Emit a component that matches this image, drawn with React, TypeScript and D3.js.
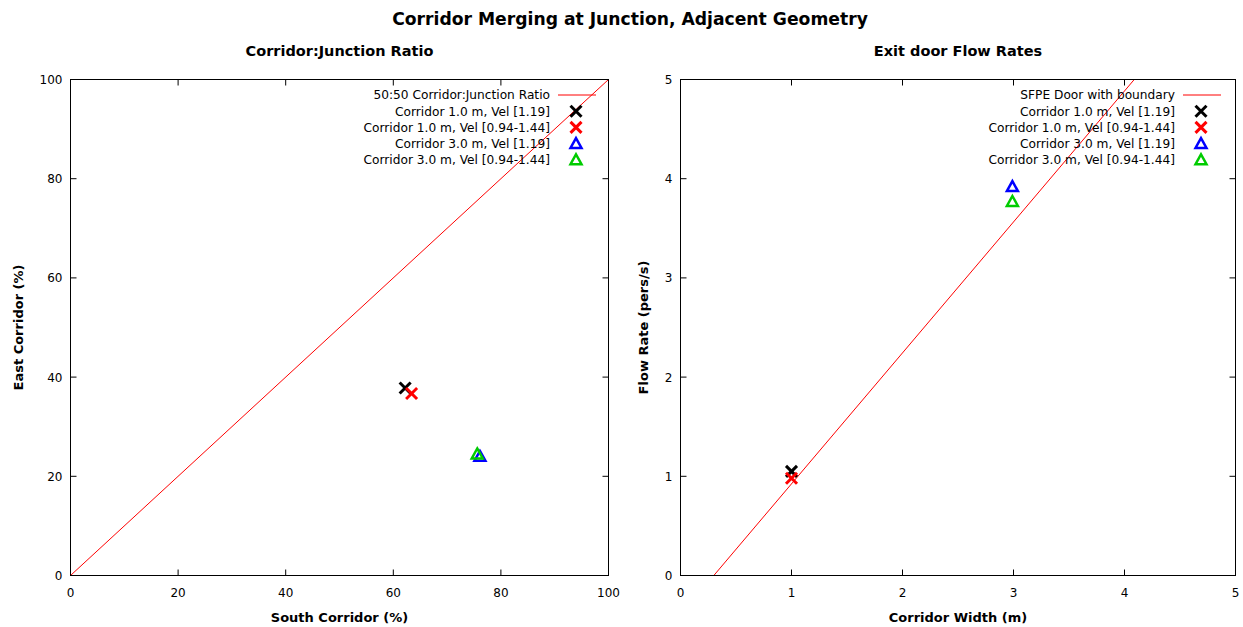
import React from "react";
import * as d3 from "d3";

const W = 1243;
const H = 627;

// Left panel data
const ratioLineX = [0, 100];
const ratioLineY = [0, 100];
const leftSeries = [
  { label: "Corridor 1.0 m, Vel [1.19]", color: "#000000", shape: "x", x: 62.2, y: 37.8 },
  { label: "Corridor 1.0 m, Vel [0.94-1.44]", color: "#ff0000", shape: "x", x: 63.4, y: 36.7 },
  { label: "Corridor 3.0 m, Vel [1.19]", color: "#0000ff", shape: "tri", x: 76.1, y: 24.0 },
  { label: "Corridor 3.0 m, Vel [0.94-1.44]", color: "#00cc00", shape: "tri", x: 75.6, y: 24.5 },
];
const leftTicks = [0, 20, 40, 60, 80, 100];

// Right panel data
const sfpeSlope = 1.32;
const sfpeBoundary = 0.3;
const sfpeX = [0.3, 4.09];
const rightSeries = [
  { label: "Corridor 1.0 m, Vel [1.19]", color: "#000000", shape: "x", x: 1.0, y: 1.05 },
  { label: "Corridor 1.0 m, Vel [0.94-1.44]", color: "#ff0000", shape: "x", x: 1.0, y: 0.98 },
  { label: "Corridor 3.0 m, Vel [1.19]", color: "#0000ff", shape: "tri", x: 2.99, y: 3.92 },
  { label: "Corridor 3.0 m, Vel [0.94-1.44]", color: "#00cc00", shape: "tri", x: 2.99, y: 3.77 },
];
const rightTicks = [0, 1, 2, 3, 4, 5];

const FONT = "'DejaVu Sans', Verdana, sans-serif";

function Marker({ shape, color, cx, cy }: { shape: string; color: string; cx: number; cy: number }) {
  if (shape === "x") {
    const s = 5.5;
    return (
      <g stroke={color} strokeWidth={3} strokeLinecap="butt">
        <line x1={cx - s} y1={cy - s} x2={cx + s} y2={cy + s} />
        <line x1={cx - s} y1={cy + s} x2={cx + s} y2={cy - s} />
      </g>
    );
  }
  const s = 5.5;
  const pts = [
    [cx, cy - s],
    [cx + s, cy + s * 0.8],
    [cx - s, cy + s * 0.8],
  ]
    .map((p) => p.join(","))
    .join(" ");
  return <polygon points={pts} fill="none" stroke={color} strokeWidth={2.5} strokeLinejoin="miter" />;
}

function Panel(props: {
  x0: number;
  x1: number;
  y0: number;
  y1: number;
  domainX: [number, number];
  domainY: [number, number];
  ticks: number[];
  title: string;
  xlabel: string;
  ylabel: string;
  ylabelX: number;
  lineLabel: string;
  lineXs: number[];
  lineYs: number[];
  series: { label: string; color: string; shape: string; x: number; y: number }[];
  legendTextRight: number;
  clipId: string;
}) {
  const { x0, x1, y0, y1, domainX, domainY, ticks, title, xlabel, ylabel, series } = props;
  const xs = d3.scaleLinear().domain(domainX).range([x0, x1]);
  const ys = d3.scaleLinear().domain(domainY).range([y1, y0]);
  const lineGen = d3
    .line<number>()
    .x((d, i) => xs(props.lineXs[i]))
    .y((d, i) => ys(props.lineYs[i]));
  const cx = (x0 + x1) / 2;
  const cy = (y0 + y1) / 2;
  const tl = 6;
  const lt = props.legendTextRight;
  const rowY = (i: number) => 95 + i * 16.2;
  return (
    <g>
      <defs>
        <clipPath id={props.clipId}>
          <rect x={x0} y={y0} width={x1 - x0} height={y1 - y0} />
        </clipPath>
      </defs>
      <text x={cx} y={56} textAnchor="middle" fontFamily={FONT} fontWeight="bold" fontSize={14.5} fill="#000">
        {title}
      </text>
      {/* ticks */}
      {ticks.map((t) => (
        <g key={"tx" + t} stroke="#000" strokeWidth={1}>
          {t !== domainX[0] && t !== domainX[1] && (
            <>
              <line x1={xs(t)} x2={xs(t)} y1={y1} y2={y1 - tl} />
              <line x1={xs(t)} x2={xs(t)} y1={y0} y2={y0 + tl} />
            </>
          )}
          {t !== domainY[0] && t !== domainY[1] && (
            <>
              <line x1={x0} x2={x0 + tl} y1={ys(t)} y2={ys(t)} />
              <line x1={x1} x2={x1 - tl} y1={ys(t)} y2={ys(t)} />
            </>
          )}
        </g>
      ))}
      {ticks.map((t) => (
        <text key={"lx" + t} x={xs(t)} y={597} textAnchor="middle" fontFamily={FONT} fontSize={12} fill="#000">
          {t}
        </text>
      ))}
      {ticks.map((t) => (
        <text
          key={"ly" + t}
          x={x0 - 8}
          y={ys(t) + 4.5}
          textAnchor="end"
          fontFamily={FONT}
          fontSize={12}
          fill="#000"
        >
          {t}
        </text>
      ))}
      <text x={cx} y={622} textAnchor="middle" fontFamily={FONT} fontWeight="bold" fontSize={13} fill="#000">
        {xlabel}
      </text>
      <text
        transform={`translate(${props.ylabelX},${cy}) rotate(-90)`}
        textAnchor="middle"
        fontFamily={FONT}
        fontWeight="bold"
        fontSize={13}
        fill="#000"
      >
        {ylabel}
      </text>
      {/* fit line */}
      <path d={lineGen(props.lineXs) || ""} stroke="#ff0000" strokeWidth={1} fill="none" clipPath={`url(#${props.clipId})`} />
      {/* points */}
      {series.map((s, i) => (
        <Marker key={"p" + i} shape={s.shape} color={s.color} cx={xs(s.x)} cy={ys(s.y)} />
      ))}
      {/* legend */}
      <text x={lt} y={rowY(0) + 4.3} textAnchor="end" fontFamily={FONT} fontSize={12.2} fill="#000">
        {props.lineLabel}
      </text>
      <line x1={lt + 8} x2={lt + 46} y1={rowY(0)} y2={rowY(0)} stroke="#ff0000" strokeWidth={1} />
      {series.map((s, i) => (
        <g key={"lg" + i}>
          <text x={lt} y={rowY(i + 1) + 4.3} textAnchor="end" fontFamily={FONT} fontSize={12.2} fill="#000">
            {s.label}
          </text>
          <Marker shape={s.shape} color={s.color} cx={lt + 26} cy={rowY(i + 1)} />
        </g>
      ))}
      {/* frame */}
      <rect x={x0} y={y0} width={x1 - x0} height={y1 - y0} fill="none" stroke="#000" strokeWidth={1} />
    </g>
  );
}

export default function App() {
  const sfpeY = sfpeX.map((x) => sfpeSlope * (x - sfpeBoundary));
  return (
    <svg width={W} height={H} style={{ position: "absolute", left: 0, top: 0, background: "#fff" }}>
      <rect width={W} height={H} fill="#fff" />
      <text x={630} y={25} textAnchor="middle" fontFamily={FONT} fontWeight="bold" fontSize={17.2} fill="#000">
        Corridor Merging at Junction, Adjacent Geometry
      </text>
      <Panel
        x0={70.5}
        x1={608.5}
        y0={79.5}
        y1={575.5}
        domainX={[0, 100]}
        domainY={[0, 100]}
        ticks={leftTicks}
        title="Corridor:Junction Ratio"
        xlabel="South Corridor (%)"
        ylabel="East Corridor (%)"
        ylabelX={23}
        lineLabel="50:50 Corridor:Junction Ratio"
        lineXs={ratioLineX}
        lineYs={ratioLineY}
        series={leftSeries}
        legendTextRight={550}
        clipId="clipL"
      />
      <Panel
        x0={680.5}
        x1={1235.5}
        y0={79.5}
        y1={575.5}
        domainX={[0, 5]}
        domainY={[0, 5]}
        ticks={rightTicks}
        title="Exit door Flow Rates"
        xlabel="Corridor Width (m)"
        ylabel="Flow Rate (pers/s)"
        ylabelX={648}
        lineLabel="SFPE Door with boundary"
        lineXs={sfpeX}
        lineYs={sfpeY}
        series={rightSeries}
        legendTextRight={1175}
        clipId="clipR"
      />
    </svg>
  );
}
